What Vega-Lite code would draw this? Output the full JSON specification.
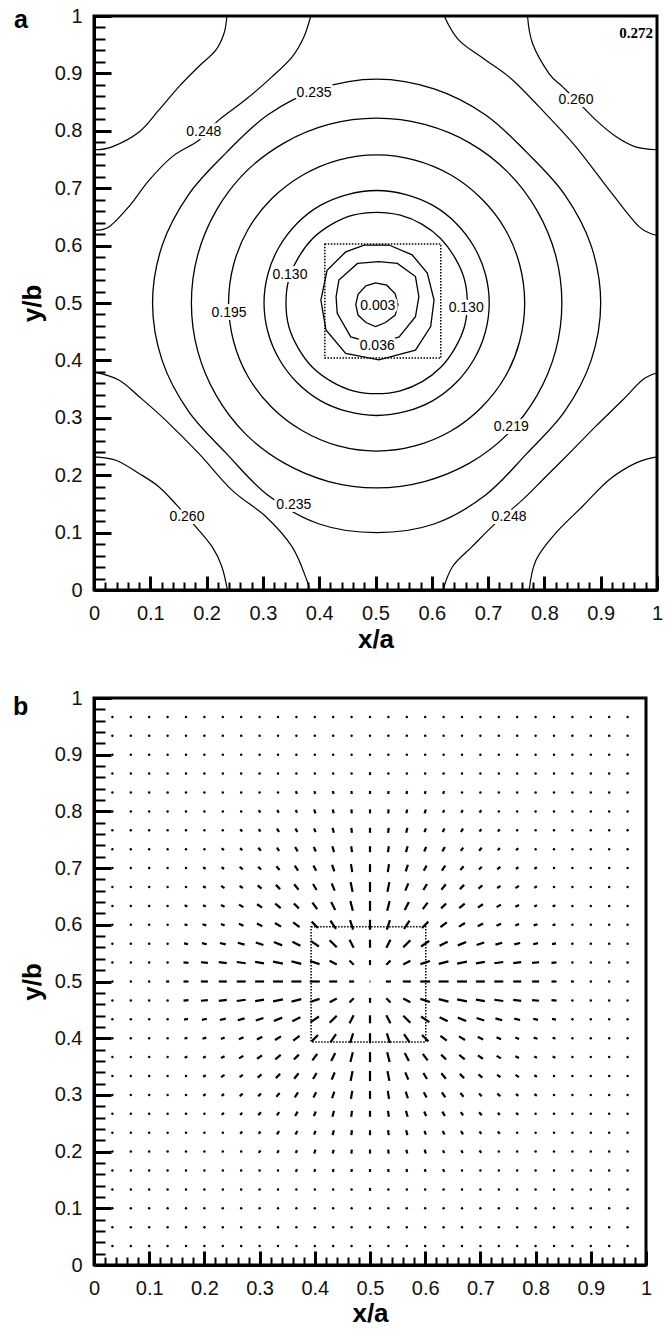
{
"$schema":"https://vega.github.io/schema/vega-lite/v6.json",
"background":"white",
"padding":{"left":11,"top":4,"right":0,"bottom":0},
"config":{
"view":{"stroke":"black","strokeWidth":3},
"concat":{"spacing":32},
"axis":{"domainColor":"black","domainWidth":3,"tickColor":"black","labelColor":"#111111","labelFont":"Liberation Sans","labelFontSize":20,"titleFont":"Liberation Sans","titleFontSize":26,"titleFontWeight":"bold","titleColor":"black","grid":false,"labelFlush":false,"labelOverlap":false,"zindex":1,"tickCount":100},
"title":{"anchor":"start","frame":"group","offset":0,"baseline":"alphabetic","font":"Liberation Sans","fontSize":25,"fontWeight":"bold","color":"black"}
},
"datasets":{
"rings":[
{"c":4,"o":0,"x":0.663,"y":0.5},{"c":4,"o":1,"x":0.658,"y":0.541},{"c":4,"o":2,"x":0.641,"y":0.579},{"c":4,"o":3,"x":0.616,"y":0.612},{"c":4,"o":4,"x":0.583,"y":0.637},{"c":4,"o":5,"x":0.544,"y":0.653},{"c":4,"o":6,"x":0.502,"y":0.658},{"c":4,"o":7,"x":0.46,"y":0.653},{"c":4,"o":8,"x":0.422,"y":0.637},{"c":4,"o":9,"x":0.388,"y":0.612},{"c":4,"o":10,"x":0.363,"y":0.579},{"c":4,"o":11,"x":0.346,"y":0.541},{"c":4,"o":12,"x":0.341,"y":0.5},{"c":4,"o":13,"x":0.346,"y":0.459},{"c":4,"o":14,"x":0.363,"y":0.421},{"c":4,"o":15,"x":0.388,"y":0.388},{"c":4,"o":16,"x":0.422,"y":0.363},{"c":4,"o":17,"x":0.46,"y":0.347},{"c":4,"o":18,"x":0.502,"y":0.342},{"c":4,"o":19,"x":0.544,"y":0.347},{"c":4,"o":20,"x":0.583,"y":0.363},{"c":4,"o":21,"x":0.616,"y":0.388},{"c":4,"o":22,"x":0.641,"y":0.421},{"c":4,"o":23,"x":0.658,"y":0.459},
{"c":5,"o":0,"x":0.702,"y":0.5},{"c":5,"o":1,"x":0.695,"y":0.551},{"c":5,"o":2,"x":0.675,"y":0.598},{"c":5,"o":3,"x":0.643,"y":0.639},{"c":5,"o":4,"x":0.602,"y":0.67},{"c":5,"o":5,"x":0.554,"y":0.689},{"c":5,"o":6,"x":0.502,"y":0.696},{"c":5,"o":7,"x":0.45,"y":0.689},{"c":5,"o":8,"x":0.402,"y":0.67},{"c":5,"o":9,"x":0.361,"y":0.639},{"c":5,"o":10,"x":0.329,"y":0.598},{"c":5,"o":11,"x":0.309,"y":0.551},{"c":5,"o":12,"x":0.302,"y":0.5},{"c":5,"o":13,"x":0.309,"y":0.449},{"c":5,"o":14,"x":0.329,"y":0.402},{"c":5,"o":15,"x":0.361,"y":0.361},{"c":5,"o":16,"x":0.402,"y":0.33},{"c":5,"o":17,"x":0.45,"y":0.311},{"c":5,"o":18,"x":0.502,"y":0.304},{"c":5,"o":19,"x":0.554,"y":0.311},{"c":5,"o":20,"x":0.602,"y":0.33},{"c":5,"o":21,"x":0.643,"y":0.361},{"c":5,"o":22,"x":0.675,"y":0.402},{"c":5,"o":23,"x":0.695,"y":0.449},
{"c":6,"o":0,"x":0.765,"y":0.5},{"c":6,"o":1,"x":0.756,"y":0.567},{"c":6,"o":2,"x":0.73,"y":0.629},{"c":6,"o":3,"x":0.688,"y":0.682},{"c":6,"o":4,"x":0.634,"y":0.723},{"c":6,"o":5,"x":0.57,"y":0.749},{"c":6,"o":6,"x":0.502,"y":0.758},{"c":6,"o":7,"x":0.434,"y":0.749},{"c":6,"o":8,"x":0.371,"y":0.723},{"c":6,"o":9,"x":0.316,"y":0.682},{"c":6,"o":10,"x":0.274,"y":0.629},{"c":6,"o":11,"x":0.248,"y":0.567},{"c":6,"o":12,"x":0.239,"y":0.5},{"c":6,"o":13,"x":0.248,"y":0.433},{"c":6,"o":14,"x":0.274,"y":0.371},{"c":6,"o":15,"x":0.316,"y":0.318},{"c":6,"o":16,"x":0.371,"y":0.277},{"c":6,"o":17,"x":0.434,"y":0.251},{"c":6,"o":18,"x":0.502,"y":0.242},{"c":6,"o":19,"x":0.57,"y":0.251},{"c":6,"o":20,"x":0.634,"y":0.277},{"c":6,"o":21,"x":0.688,"y":0.318},{"c":6,"o":22,"x":0.73,"y":0.371},{"c":6,"o":23,"x":0.756,"y":0.433},
{"c":7,"o":0,"x":0.831,"y":0.5},{"c":7,"o":1,"x":0.82,"y":0.583},{"c":7,"o":2,"x":0.787,"y":0.661},{"c":7,"o":3,"x":0.735,"y":0.728},{"c":7,"o":4,"x":0.667,"y":0.779},{"c":7,"o":5,"x":0.587,"y":0.811},{"c":7,"o":6,"x":0.502,"y":0.822},{"c":7,"o":7,"x":0.417,"y":0.811},{"c":7,"o":8,"x":0.338,"y":0.779},{"c":7,"o":9,"x":0.269,"y":0.728},{"c":7,"o":10,"x":0.217,"y":0.661},{"c":7,"o":11,"x":0.184,"y":0.583},{"c":7,"o":12,"x":0.173,"y":0.5},{"c":7,"o":13,"x":0.184,"y":0.417},{"c":7,"o":14,"x":0.217,"y":0.339},{"c":7,"o":15,"x":0.269,"y":0.272},{"c":7,"o":16,"x":0.338,"y":0.221},{"c":7,"o":17,"x":0.417,"y":0.189},{"c":7,"o":18,"x":0.502,"y":0.178},{"c":7,"o":19,"x":0.587,"y":0.189},{"c":7,"o":20,"x":0.667,"y":0.221},{"c":7,"o":21,"x":0.735,"y":0.272},{"c":7,"o":22,"x":0.787,"y":0.339},{"c":7,"o":23,"x":0.82,"y":0.417},
{"c":8,"o":0,"x":0.9,"y":0.5},{"c":8,"o":1,"x":0.883,"y":0.6},{"c":8,"o":2,"x":0.836,"y":0.689},{"c":8,"o":3,"x":0.769,"y":0.762},{"c":8,"o":4,"x":0.695,"y":0.828},{"c":8,"o":5,"x":0.604,"y":0.873},{"c":8,"o":6,"x":0.502,"y":0.89},{"c":8,"o":7,"x":0.4,"y":0.873},{"c":8,"o":8,"x":0.309,"y":0.828},{"c":8,"o":9,"x":0.235,"y":0.762},{"c":8,"o":10,"x":0.168,"y":0.689},{"c":8,"o":11,"x":0.121,"y":0.6},{"c":8,"o":12,"x":0.104,"y":0.5},{"c":8,"o":13,"x":0.121,"y":0.4},{"c":8,"o":14,"x":0.168,"y":0.311},{"c":8,"o":15,"x":0.235,"y":0.238},{"c":8,"o":16,"x":0.309,"y":0.165},{"c":8,"o":17,"x":0.4,"y":0.115},{"c":8,"o":18,"x":0.502,"y":0.1},{"c":8,"o":19,"x":0.604,"y":0.115},{"c":8,"o":20,"x":0.695,"y":0.165},{"c":8,"o":21,"x":0.769,"y":0.238},{"c":8,"o":22,"x":0.836,"y":0.311},{"c":8,"o":23,"x":0.883,"y":0.4}
],
"inner":[
{"c":1,"o":0,"x":0.465,"y":0.497},{"c":1,"o":1,"x":0.469,"y":0.515},{"c":1,"o":2,"x":0.483,"y":0.53},{"c":1,"o":3,"x":0.5,"y":0.535},{"c":1,"o":4,"x":0.52,"y":0.531},{"c":1,"o":5,"x":0.535,"y":0.516},{"c":1,"o":6,"x":0.54,"y":0.497},{"c":1,"o":7,"x":0.535,"y":0.479},{"c":1,"o":8,"x":0.518,"y":0.466},{"c":1,"o":9,"x":0.5,"y":0.459},{"c":1,"o":10,"x":0.483,"y":0.466},{"c":1,"o":11,"x":0.469,"y":0.479},
{"c":2,"o":0,"x":0.468,"y":0.569},{"c":2,"o":1,"x":0.506,"y":0.572},{"c":2,"o":2,"x":0.539,"y":0.569},{"c":2,"o":3,"x":0.571,"y":0.546},{"c":2,"o":4,"x":0.577,"y":0.511},{"c":2,"o":5,"x":0.571,"y":0.476},{"c":2,"o":6,"x":0.542,"y":0.441},{"c":2,"o":7,"x":0.503,"y":0.428},{"c":2,"o":8,"x":0.456,"y":0.441},{"c":2,"o":9,"x":0.432,"y":0.482},{"c":2,"o":10,"x":0.43,"y":0.511},{"c":2,"o":11,"x":0.435,"y":0.54},
{"c":3,"o":0,"x":0.48,"y":0.601},{"c":3,"o":1,"x":0.524,"y":0.601},{"c":3,"o":2,"x":0.565,"y":0.584},{"c":3,"o":3,"x":0.592,"y":0.552},{"c":3,"o":4,"x":0.604,"y":0.505},{"c":3,"o":5,"x":0.598,"y":0.459},{"c":3,"o":6,"x":0.571,"y":0.418},{"c":3,"o":7,"x":0.506,"y":0.401},{"c":3,"o":8,"x":0.447,"y":0.412},{"c":3,"o":9,"x":0.412,"y":0.453},{"c":3,"o":10,"x":0.403,"y":0.505},{"c":3,"o":11,"x":0.414,"y":0.557},{"c":3,"o":12,"x":0.447,"y":0.589}
],
"arcs":[
{"c":11,"o":0,"x":0,"y":0.767},{"c":11,"o":1,"x":0.032,"y":0.772},{"c":11,"o":2,"x":0.08,"y":0.798},{"c":11,"o":3,"x":0.115,"y":0.836},{"c":11,"o":4,"x":0.151,"y":0.877},{"c":11,"o":5,"x":0.186,"y":0.912},{"c":11,"o":6,"x":0.216,"y":0.94},{"c":11,"o":7,"x":0.231,"y":0.97},{"c":11,"o":8,"x":0.236,"y":1},
{"c":12,"o":0,"x":0,"y":0.627},{"c":12,"o":1,"x":0.027,"y":0.633},{"c":12,"o":2,"x":0.062,"y":0.668},{"c":12,"o":3,"x":0.098,"y":0.714},{"c":12,"o":4,"x":0.139,"y":0.755},{"c":12,"o":5,"x":0.187,"y":0.784},{"c":12,"o":6,"x":0.222,"y":0.819},{"c":12,"o":7,"x":0.269,"y":0.854},{"c":12,"o":8,"x":0.316,"y":0.894},{"c":12,"o":9,"x":0.352,"y":0.929},{"c":12,"o":10,"x":0.373,"y":0.964},{"c":12,"o":11,"x":0.385,"y":1},
{"c":13,"o":0,"x":0.77,"y":1},{"c":13,"o":1,"x":0.779,"y":0.952},{"c":13,"o":2,"x":0.808,"y":0.9},{"c":13,"o":3,"x":0.832,"y":0.877},{"c":13,"o":4,"x":0.856,"y":0.854},{"c":13,"o":5,"x":0.891,"y":0.819},{"c":13,"o":6,"x":0.927,"y":0.79},{"c":13,"o":7,"x":0.962,"y":0.772},{"c":13,"o":8,"x":1,"y":0.767},
{"c":14,"o":0,"x":0.622,"y":1},{"c":14,"o":1,"x":0.648,"y":0.958},{"c":14,"o":2,"x":0.696,"y":0.923},{"c":14,"o":3,"x":0.743,"y":0.889},{"c":14,"o":4,"x":0.802,"y":0.83},{"c":14,"o":5,"x":0.856,"y":0.772},{"c":14,"o":6,"x":0.915,"y":0.697},{"c":14,"o":7,"x":0.968,"y":0.633},{"c":14,"o":8,"x":1,"y":0.618},
{"c":15,"o":0,"x":0,"y":0.232},{"c":15,"o":1,"x":0.039,"y":0.226},{"c":15,"o":2,"x":0.08,"y":0.203},{"c":15,"o":3,"x":0.115,"y":0.18},{"c":15,"o":4,"x":0.147,"y":0.148},{"c":15,"o":5,"x":0.181,"y":0.11},{"c":15,"o":6,"x":0.21,"y":0.075},{"c":15,"o":7,"x":0.227,"y":0.041},{"c":15,"o":8,"x":0.237,"y":0},
{"c":16,"o":0,"x":0,"y":0.38},{"c":16,"o":1,"x":0.044,"y":0.366},{"c":16,"o":2,"x":0.08,"y":0.337},{"c":16,"o":3,"x":0.127,"y":0.296},{"c":16,"o":4,"x":0.186,"y":0.238},{"c":16,"o":5,"x":0.245,"y":0.174},{"c":16,"o":6,"x":0.305,"y":0.128},{"c":16,"o":7,"x":0.352,"y":0.075},{"c":16,"o":8,"x":0.378,"y":0.017},{"c":16,"o":9,"x":0.382,"y":0},
{"c":17,"o":0,"x":0.773,"y":0},{"c":17,"o":1,"x":0.785,"y":0.052},{"c":17,"o":2,"x":0.82,"y":0.099},{"c":17,"o":3,"x":0.867,"y":0.145},{"c":17,"o":4,"x":0.915,"y":0.192},{"c":17,"o":5,"x":0.962,"y":0.221},{"c":17,"o":6,"x":1,"y":0.232},
{"c":18,"o":0,"x":0.62,"y":0},{"c":18,"o":1,"x":0.637,"y":0.041},{"c":18,"o":2,"x":0.672,"y":0.076},{"c":18,"o":3,"x":0.713,"y":0.116},{"c":18,"o":4,"x":0.761,"y":0.157},{"c":18,"o":5,"x":0.797,"y":0.192},{"c":18,"o":6,"x":0.844,"y":0.238},{"c":18,"o":7,"x":0.891,"y":0.285},{"c":18,"o":8,"x":0.939,"y":0.331},{"c":18,"o":9,"x":0.974,"y":0.366},{"c":18,"o":10,"x":1,"y":0.378}
],
"labels":[
{"t":"0.260","x":0.856,"y":0.854},{"t":"0.235","x":0.391,"y":0.866},{"t":"0.248","x":0.195,"y":0.798},{"t":"0.130","x":0.348,"y":0.549},{"t":"0.195","x":0.24,"y":0.483},{"t":"0.003","x":0.504,"y":0.495},{"t":"0.130","x":0.661,"y":0.491},{"t":"0.036","x":0.503,"y":0.425},{"t":"0.219","x":0.741,"y":0.284},{"t":"0.235","x":0.355,"y":0.148},{"t":"0.260","x":0.165,"y":0.127},{"t":"0.248","x":0.737,"y":0.127}
],
"near":[
{"i":15,"j":26,"a":90,"l":3},
{"i":11,"j":25,"a":68,"l":3},{"i":12,"j":25,"a":73,"l":3},{"i":13,"j":25,"a":79,"l":3},{"i":14,"j":25,"a":84,"l":3},{"i":15,"j":25,"a":90,"l":3},{"i":16,"j":25,"a":-84,"l":3},{"i":17,"j":25,"a":-79,"l":3},{"i":18,"j":25,"a":-73,"l":3},{"i":19,"j":25,"a":-68,"l":3},
{"i":9,"j":24,"a":56,"l":3},{"i":10,"j":24,"a":61,"l":3},{"i":11,"j":24,"a":66,"l":3},{"i":12,"j":24,"a":72,"l":4},{"i":13,"j":24,"a":77,"l":4},{"i":14,"j":24,"a":84,"l":4},{"i":15,"j":24,"a":90,"l":4},{"i":16,"j":24,"a":-84,"l":4},{"i":17,"j":24,"a":-77,"l":4},{"i":18,"j":24,"a":-72,"l":4},{"i":19,"j":24,"a":-66,"l":3},{"i":20,"j":24,"a":-61,"l":3},{"i":21,"j":24,"a":-56,"l":3},
{"i":8,"j":23,"a":49,"l":3},{"i":9,"j":23,"a":53,"l":3},{"i":10,"j":23,"a":58,"l":4},{"i":11,"j":23,"a":63,"l":4},{"i":12,"j":23,"a":69,"l":4},{"i":13,"j":23,"a":76,"l":5},{"i":14,"j":23,"a":83,"l":5},{"i":15,"j":23,"a":90,"l":5},{"i":16,"j":23,"a":-83,"l":5},{"i":17,"j":23,"a":-76,"l":5},{"i":18,"j":23,"a":-69,"l":4},{"i":19,"j":23,"a":-63,"l":4},{"i":20,"j":23,"a":-58,"l":4},{"i":21,"j":23,"a":-53,"l":3},{"i":22,"j":23,"a":-49,"l":3},
{"i":7,"j":22,"a":41,"l":3},{"i":8,"j":22,"a":45,"l":3},{"i":9,"j":22,"a":49,"l":4},{"i":10,"j":22,"a":54,"l":4},{"i":11,"j":22,"a":60,"l":5},{"i":12,"j":22,"a":67,"l":5},{"i":13,"j":22,"a":74,"l":6},{"i":14,"j":22,"a":82,"l":6},{"i":15,"j":22,"a":90,"l":6},{"i":16,"j":22,"a":-82,"l":6},{"i":17,"j":22,"a":-74,"l":6},{"i":18,"j":22,"a":-67,"l":5},{"i":19,"j":22,"a":-60,"l":5},{"i":20,"j":22,"a":-54,"l":4},{"i":21,"j":22,"a":-49,"l":4},{"i":22,"j":22,"a":-45,"l":3},{"i":23,"j":22,"a":-41,"l":3},
{"i":6,"j":21,"a":34,"l":3},{"i":7,"j":21,"a":37,"l":3},{"i":8,"j":21,"a":41,"l":4},{"i":9,"j":21,"a":45,"l":4},{"i":10,"j":21,"a":50,"l":5},{"i":11,"j":21,"a":56,"l":6},{"i":12,"j":21,"a":63,"l":6},{"i":13,"j":21,"a":72,"l":7},{"i":14,"j":21,"a":81,"l":8},{"i":15,"j":21,"a":90,"l":8},{"i":16,"j":21,"a":-81,"l":8},{"i":17,"j":21,"a":-72,"l":7},{"i":18,"j":21,"a":-63,"l":6},{"i":19,"j":21,"a":-56,"l":6},{"i":20,"j":21,"a":-50,"l":5},{"i":21,"j":21,"a":-45,"l":4},{"i":22,"j":21,"a":-41,"l":4},{"i":23,"j":21,"a":-37,"l":3},{"i":24,"j":21,"a":-34,"l":3},
{"i":6,"j":20,"a":29,"l":3},{"i":7,"j":20,"a":32,"l":4},{"i":8,"j":20,"a":36,"l":4},{"i":9,"j":20,"a":40,"l":5},{"i":10,"j":20,"a":45,"l":6},{"i":11,"j":20,"a":51,"l":7},{"i":12,"j":20,"a":59,"l":7},{"i":13,"j":20,"a":68,"l":8},{"i":14,"j":20,"a":79,"l":10},{"i":15,"j":20,"a":90,"l":10},{"i":16,"j":20,"a":-79,"l":10},{"i":17,"j":20,"a":-68,"l":8},{"i":18,"j":20,"a":-59,"l":7},{"i":19,"j":20,"a":-51,"l":7},{"i":20,"j":20,"a":-45,"l":6},{"i":21,"j":20,"a":-40,"l":5},{"i":22,"j":20,"a":-36,"l":4},{"i":23,"j":20,"a":-32,"l":4},{"i":24,"j":20,"a":-29,"l":3},
{"i":5,"j":19,"a":22,"l":3},{"i":6,"j":19,"a":24,"l":3},{"i":7,"j":19,"a":27,"l":4},{"i":8,"j":19,"a":30,"l":5},{"i":9,"j":19,"a":34,"l":6},{"i":10,"j":19,"a":39,"l":7},{"i":11,"j":19,"a":45,"l":7},{"i":12,"j":19,"a":53,"l":8},{"i":13,"j":19,"a":63,"l":9},{"i":14,"j":19,"a":76,"l":10},{"i":15,"j":19,"a":90,"l":10},{"i":16,"j":19,"a":-76,"l":10},{"i":17,"j":19,"a":-63,"l":9},{"i":18,"j":19,"a":-53,"l":8},{"i":19,"j":19,"a":-45,"l":7},{"i":20,"j":19,"a":-39,"l":7},{"i":21,"j":19,"a":-34,"l":6},{"i":22,"j":19,"a":-30,"l":5},{"i":23,"j":19,"a":-27,"l":4},{"i":24,"j":19,"a":-24,"l":3},{"i":25,"j":19,"a":-22,"l":3},
{"i":5,"j":18,"a":17,"l":3},{"i":6,"j":18,"a":18,"l":4},{"i":7,"j":18,"a":21,"l":4},{"i":8,"j":18,"a":23,"l":5},{"i":9,"j":18,"a":27,"l":6},{"i":10,"j":18,"a":31,"l":7},{"i":11,"j":18,"a":37,"l":8},{"i":12,"j":18,"a":45,"l":9},{"i":13,"j":18,"a":56,"l":10},{"i":14,"j":18,"a":72,"l":10},{"i":15,"j":18,"a":90,"l":10},{"i":16,"j":18,"a":-72,"l":10},{"i":17,"j":18,"a":-56,"l":10},{"i":18,"j":18,"a":-45,"l":9},{"i":19,"j":18,"a":-37,"l":8},{"i":20,"j":18,"a":-31,"l":7},{"i":21,"j":18,"a":-27,"l":6},{"i":22,"j":18,"a":-23,"l":5},{"i":23,"j":18,"a":-21,"l":4},{"i":24,"j":18,"a":-18,"l":4},{"i":25,"j":18,"a":-17,"l":3},
{"i":5,"j":17,"a":11,"l":4},{"i":6,"j":17,"a":13,"l":5},{"i":7,"j":17,"a":14,"l":6},{"i":8,"j":17,"a":16,"l":7},{"i":9,"j":17,"a":18,"l":8},{"i":10,"j":17,"a":22,"l":9},{"i":11,"j":17,"a":27,"l":9},{"i":12,"j":17,"a":34,"l":10},{"i":13,"j":17,"a":45,"l":10},{"i":14,"j":17,"a":63,"l":9},{"i":15,"j":17,"a":90,"l":8},{"i":16,"j":17,"a":-63,"l":9},{"i":17,"j":17,"a":-45,"l":10},{"i":18,"j":17,"a":-34,"l":10},{"i":19,"j":17,"a":-27,"l":9},{"i":20,"j":17,"a":-22,"l":9},{"i":21,"j":17,"a":-18,"l":8},{"i":22,"j":17,"a":-16,"l":7},{"i":23,"j":17,"a":-14,"l":6},{"i":24,"j":17,"a":-13,"l":5},{"i":25,"j":17,"a":-11,"l":4},
{"i":5,"j":16,"a":6,"l":5},{"i":6,"j":16,"a":6,"l":7},{"i":7,"j":16,"a":7,"l":8},{"i":8,"j":16,"a":8,"l":9},{"i":9,"j":16,"a":9,"l":9},{"i":10,"j":16,"a":11,"l":10},{"i":11,"j":16,"a":14,"l":10},{"i":12,"j":16,"a":18,"l":10},{"i":13,"j":16,"a":27,"l":8},{"i":14,"j":16,"a":45,"l":6},{"i":15,"j":16,"a":90,"l":5},{"i":16,"j":16,"a":-45,"l":6},{"i":17,"j":16,"a":-27,"l":8},{"i":18,"j":16,"a":-18,"l":10},{"i":19,"j":16,"a":-14,"l":10},{"i":20,"j":16,"a":-11,"l":10},{"i":21,"j":16,"a":-9,"l":9},{"i":22,"j":16,"a":-8,"l":9},{"i":23,"j":16,"a":-7,"l":8},{"i":24,"j":16,"a":-6,"l":7},{"i":25,"j":16,"a":-6,"l":5},
{"i":4,"j":15,"a":0,"l":3},{"i":5,"j":15,"a":0,"l":5},{"i":6,"j":15,"a":0,"l":7},{"i":7,"j":15,"a":0,"l":8},{"i":8,"j":15,"a":0,"l":9},{"i":9,"j":15,"a":0,"l":9},{"i":10,"j":15,"a":0,"l":10},{"i":11,"j":15,"a":0,"l":10},{"i":12,"j":15,"a":0,"l":10},{"i":13,"j":15,"a":0,"l":8},{"i":14,"j":15,"a":0,"l":5},{"i":15,"j":15,"a":0,"l":1},{"i":16,"j":15,"a":0,"l":5},{"i":17,"j":15,"a":0,"l":8},{"i":18,"j":15,"a":0,"l":10},{"i":19,"j":15,"a":0,"l":10},{"i":20,"j":15,"a":0,"l":10},{"i":21,"j":15,"a":0,"l":9},{"i":22,"j":15,"a":0,"l":9},{"i":23,"j":15,"a":0,"l":8},{"i":24,"j":15,"a":0,"l":7},{"i":25,"j":15,"a":0,"l":5},{"i":26,"j":15,"a":0,"l":3},
{"i":5,"j":14,"a":-6,"l":5},{"i":6,"j":14,"a":-6,"l":7},{"i":7,"j":14,"a":-7,"l":8},{"i":8,"j":14,"a":-8,"l":9},{"i":9,"j":14,"a":-9,"l":9},{"i":10,"j":14,"a":-11,"l":10},{"i":11,"j":14,"a":-14,"l":10},{"i":12,"j":14,"a":-18,"l":10},{"i":13,"j":14,"a":-27,"l":8},{"i":14,"j":14,"a":-45,"l":6},{"i":15,"j":14,"a":90,"l":5},{"i":16,"j":14,"a":45,"l":6},{"i":17,"j":14,"a":27,"l":8},{"i":18,"j":14,"a":18,"l":10},{"i":19,"j":14,"a":14,"l":10},{"i":20,"j":14,"a":11,"l":10},{"i":21,"j":14,"a":9,"l":9},{"i":22,"j":14,"a":8,"l":9},{"i":23,"j":14,"a":7,"l":8},{"i":24,"j":14,"a":6,"l":7},{"i":25,"j":14,"a":6,"l":5},
{"i":5,"j":13,"a":-11,"l":4},{"i":6,"j":13,"a":-13,"l":5},{"i":7,"j":13,"a":-14,"l":6},{"i":8,"j":13,"a":-16,"l":7},{"i":9,"j":13,"a":-18,"l":8},{"i":10,"j":13,"a":-22,"l":9},{"i":11,"j":13,"a":-27,"l":9},{"i":12,"j":13,"a":-34,"l":10},{"i":13,"j":13,"a":-45,"l":10},{"i":14,"j":13,"a":-63,"l":9},{"i":15,"j":13,"a":90,"l":8},{"i":16,"j":13,"a":63,"l":9},{"i":17,"j":13,"a":45,"l":10},{"i":18,"j":13,"a":34,"l":10},{"i":19,"j":13,"a":27,"l":9},{"i":20,"j":13,"a":22,"l":9},{"i":21,"j":13,"a":18,"l":8},{"i":22,"j":13,"a":16,"l":7},{"i":23,"j":13,"a":14,"l":6},{"i":24,"j":13,"a":13,"l":5},{"i":25,"j":13,"a":11,"l":4},
{"i":5,"j":12,"a":-17,"l":3},{"i":6,"j":12,"a":-18,"l":4},{"i":7,"j":12,"a":-21,"l":4},{"i":8,"j":12,"a":-23,"l":5},{"i":9,"j":12,"a":-27,"l":6},{"i":10,"j":12,"a":-31,"l":7},{"i":11,"j":12,"a":-37,"l":8},{"i":12,"j":12,"a":-45,"l":9},{"i":13,"j":12,"a":-56,"l":10},{"i":14,"j":12,"a":-72,"l":10},{"i":15,"j":12,"a":90,"l":10},{"i":16,"j":12,"a":72,"l":10},{"i":17,"j":12,"a":56,"l":10},{"i":18,"j":12,"a":45,"l":9},{"i":19,"j":12,"a":37,"l":8},{"i":20,"j":12,"a":31,"l":7},{"i":21,"j":12,"a":27,"l":6},{"i":22,"j":12,"a":23,"l":5},{"i":23,"j":12,"a":21,"l":4},{"i":24,"j":12,"a":18,"l":4},{"i":25,"j":12,"a":17,"l":3},
{"i":5,"j":11,"a":-22,"l":3},{"i":6,"j":11,"a":-24,"l":3},{"i":7,"j":11,"a":-27,"l":4},{"i":8,"j":11,"a":-30,"l":5},{"i":9,"j":11,"a":-34,"l":6},{"i":10,"j":11,"a":-39,"l":7},{"i":11,"j":11,"a":-45,"l":7},{"i":12,"j":11,"a":-53,"l":8},{"i":13,"j":11,"a":-63,"l":9},{"i":14,"j":11,"a":-76,"l":10},{"i":15,"j":11,"a":90,"l":10},{"i":16,"j":11,"a":76,"l":10},{"i":17,"j":11,"a":63,"l":9},{"i":18,"j":11,"a":53,"l":8},{"i":19,"j":11,"a":45,"l":7},{"i":20,"j":11,"a":39,"l":7},{"i":21,"j":11,"a":34,"l":6},{"i":22,"j":11,"a":30,"l":5},{"i":23,"j":11,"a":27,"l":4},{"i":24,"j":11,"a":24,"l":3},{"i":25,"j":11,"a":22,"l":3},
{"i":6,"j":10,"a":-29,"l":3},{"i":7,"j":10,"a":-32,"l":4},{"i":8,"j":10,"a":-36,"l":4},{"i":9,"j":10,"a":-40,"l":5},{"i":10,"j":10,"a":-45,"l":6},{"i":11,"j":10,"a":-51,"l":7},{"i":12,"j":10,"a":-59,"l":7},{"i":13,"j":10,"a":-68,"l":8},{"i":14,"j":10,"a":-79,"l":10},{"i":15,"j":10,"a":90,"l":10},{"i":16,"j":10,"a":79,"l":10},{"i":17,"j":10,"a":68,"l":8},{"i":18,"j":10,"a":59,"l":7},{"i":19,"j":10,"a":51,"l":7},{"i":20,"j":10,"a":45,"l":6},{"i":21,"j":10,"a":40,"l":5},{"i":22,"j":10,"a":36,"l":4},{"i":23,"j":10,"a":32,"l":4},{"i":24,"j":10,"a":29,"l":3},
{"i":6,"j":9,"a":-34,"l":3},{"i":7,"j":9,"a":-37,"l":3},{"i":8,"j":9,"a":-41,"l":4},{"i":9,"j":9,"a":-45,"l":4},{"i":10,"j":9,"a":-50,"l":5},{"i":11,"j":9,"a":-56,"l":6},{"i":12,"j":9,"a":-63,"l":6},{"i":13,"j":9,"a":-72,"l":7},{"i":14,"j":9,"a":-81,"l":8},{"i":15,"j":9,"a":90,"l":8},{"i":16,"j":9,"a":81,"l":8},{"i":17,"j":9,"a":72,"l":7},{"i":18,"j":9,"a":63,"l":6},{"i":19,"j":9,"a":56,"l":6},{"i":20,"j":9,"a":50,"l":5},{"i":21,"j":9,"a":45,"l":4},{"i":22,"j":9,"a":41,"l":4},{"i":23,"j":9,"a":37,"l":3},{"i":24,"j":9,"a":34,"l":3},
{"i":7,"j":8,"a":-41,"l":3},{"i":8,"j":8,"a":-45,"l":3},{"i":9,"j":8,"a":-49,"l":4},{"i":10,"j":8,"a":-54,"l":4},{"i":11,"j":8,"a":-60,"l":5},{"i":12,"j":8,"a":-67,"l":5},{"i":13,"j":8,"a":-74,"l":6},{"i":14,"j":8,"a":-82,"l":6},{"i":15,"j":8,"a":90,"l":6},{"i":16,"j":8,"a":82,"l":6},{"i":17,"j":8,"a":74,"l":6},{"i":18,"j":8,"a":67,"l":5},{"i":19,"j":8,"a":60,"l":5},{"i":20,"j":8,"a":54,"l":4},{"i":21,"j":8,"a":49,"l":4},{"i":22,"j":8,"a":45,"l":3},{"i":23,"j":8,"a":41,"l":3},
{"i":8,"j":7,"a":-49,"l":3},{"i":9,"j":7,"a":-53,"l":3},{"i":10,"j":7,"a":-58,"l":4},{"i":11,"j":7,"a":-63,"l":4},{"i":12,"j":7,"a":-69,"l":4},{"i":13,"j":7,"a":-76,"l":5},{"i":14,"j":7,"a":-83,"l":5},{"i":15,"j":7,"a":90,"l":5},{"i":16,"j":7,"a":83,"l":5},{"i":17,"j":7,"a":76,"l":5},{"i":18,"j":7,"a":69,"l":4},{"i":19,"j":7,"a":63,"l":4},{"i":20,"j":7,"a":58,"l":4},{"i":21,"j":7,"a":53,"l":3},{"i":22,"j":7,"a":49,"l":3},
{"i":9,"j":6,"a":-56,"l":3},{"i":10,"j":6,"a":-61,"l":3},{"i":11,"j":6,"a":-66,"l":3},{"i":12,"j":6,"a":-72,"l":4},{"i":13,"j":6,"a":-77,"l":4},{"i":14,"j":6,"a":-84,"l":4},{"i":15,"j":6,"a":90,"l":4},{"i":16,"j":6,"a":84,"l":4},{"i":17,"j":6,"a":77,"l":4},{"i":18,"j":6,"a":72,"l":4},{"i":19,"j":6,"a":66,"l":3},{"i":20,"j":6,"a":61,"l":3},{"i":21,"j":6,"a":56,"l":3},
{"i":11,"j":5,"a":-68,"l":3},{"i":12,"j":5,"a":-73,"l":3},{"i":13,"j":5,"a":-79,"l":3},{"i":14,"j":5,"a":-84,"l":3},{"i":15,"j":5,"a":90,"l":3},{"i":16,"j":5,"a":84,"l":3},{"i":17,"j":5,"a":79,"l":3},{"i":18,"j":5,"a":73,"l":3},{"i":19,"j":5,"a":68,"l":3},
{"i":15,"j":4,"a":90,"l":3}
],
"far":[
{"i":1,"j":29},{"i":2,"j":29},{"i":3,"j":29},{"i":4,"j":29},{"i":5,"j":29},{"i":6,"j":29},{"i":7,"j":29},{"i":8,"j":29},{"i":9,"j":29},{"i":10,"j":29},{"i":11,"j":29},{"i":12,"j":29},{"i":13,"j":29},{"i":14,"j":29},{"i":15,"j":29},{"i":16,"j":29},{"i":17,"j":29},{"i":18,"j":29},{"i":19,"j":29},{"i":20,"j":29},{"i":21,"j":29},{"i":22,"j":29},{"i":23,"j":29},{"i":24,"j":29},{"i":25,"j":29},{"i":26,"j":29},{"i":27,"j":29},{"i":28,"j":29},{"i":29,"j":29},
{"i":1,"j":28},{"i":2,"j":28},{"i":3,"j":28},{"i":4,"j":28},{"i":5,"j":28},{"i":6,"j":28},{"i":7,"j":28},{"i":8,"j":28},{"i":9,"j":28},{"i":10,"j":28},{"i":11,"j":28},{"i":12,"j":28},{"i":13,"j":28},{"i":14,"j":28},{"i":15,"j":28},{"i":16,"j":28},{"i":17,"j":28},{"i":18,"j":28},{"i":19,"j":28},{"i":20,"j":28},{"i":21,"j":28},{"i":22,"j":28},{"i":23,"j":28},{"i":24,"j":28},{"i":25,"j":28},{"i":26,"j":28},{"i":27,"j":28},{"i":28,"j":28},{"i":29,"j":28},
{"i":1,"j":27},{"i":2,"j":27},{"i":3,"j":27},{"i":4,"j":27},{"i":5,"j":27},{"i":6,"j":27},{"i":7,"j":27},{"i":8,"j":27},{"i":9,"j":27},{"i":10,"j":27},{"i":11,"j":27},{"i":12,"j":27},{"i":13,"j":27},{"i":14,"j":27},{"i":15,"j":27},{"i":16,"j":27},{"i":17,"j":27},{"i":18,"j":27},{"i":19,"j":27},{"i":20,"j":27},{"i":21,"j":27},{"i":22,"j":27},{"i":23,"j":27},{"i":24,"j":27},{"i":25,"j":27},{"i":26,"j":27},{"i":27,"j":27},{"i":28,"j":27},{"i":29,"j":27},
{"i":1,"j":26},{"i":2,"j":26},{"i":3,"j":26},{"i":4,"j":26},{"i":5,"j":26},{"i":6,"j":26},{"i":7,"j":26},{"i":8,"j":26},{"i":9,"j":26},{"i":10,"j":26},{"i":11,"j":26},{"i":12,"j":26},{"i":13,"j":26},{"i":14,"j":26},{"i":16,"j":26},{"i":17,"j":26},{"i":18,"j":26},{"i":19,"j":26},{"i":20,"j":26},{"i":21,"j":26},{"i":22,"j":26},{"i":23,"j":26},{"i":24,"j":26},{"i":25,"j":26},{"i":26,"j":26},{"i":27,"j":26},{"i":28,"j":26},{"i":29,"j":26},
{"i":1,"j":25},{"i":2,"j":25},{"i":3,"j":25},{"i":4,"j":25},{"i":5,"j":25},{"i":6,"j":25},{"i":7,"j":25},{"i":8,"j":25},{"i":9,"j":25},{"i":10,"j":25},{"i":20,"j":25},{"i":21,"j":25},{"i":22,"j":25},{"i":23,"j":25},{"i":24,"j":25},{"i":25,"j":25},{"i":26,"j":25},{"i":27,"j":25},{"i":28,"j":25},{"i":29,"j":25},
{"i":1,"j":24},{"i":2,"j":24},{"i":3,"j":24},{"i":4,"j":24},{"i":5,"j":24},{"i":6,"j":24},{"i":7,"j":24},{"i":8,"j":24},{"i":22,"j":24},{"i":23,"j":24},{"i":24,"j":24},{"i":25,"j":24},{"i":26,"j":24},{"i":27,"j":24},{"i":28,"j":24},{"i":29,"j":24},
{"i":1,"j":23},{"i":2,"j":23},{"i":3,"j":23},{"i":4,"j":23},{"i":5,"j":23},{"i":6,"j":23},{"i":7,"j":23},{"i":23,"j":23},{"i":24,"j":23},{"i":25,"j":23},{"i":26,"j":23},{"i":27,"j":23},{"i":28,"j":23},{"i":29,"j":23},
{"i":1,"j":22},{"i":2,"j":22},{"i":3,"j":22},{"i":4,"j":22},{"i":5,"j":22},{"i":6,"j":22},{"i":24,"j":22},{"i":25,"j":22},{"i":26,"j":22},{"i":27,"j":22},{"i":28,"j":22},{"i":29,"j":22},
{"i":1,"j":21},{"i":2,"j":21},{"i":3,"j":21},{"i":4,"j":21},{"i":5,"j":21},{"i":25,"j":21},{"i":26,"j":21},{"i":27,"j":21},{"i":28,"j":21},{"i":29,"j":21},
{"i":1,"j":20},{"i":2,"j":20},{"i":3,"j":20},{"i":4,"j":20},{"i":5,"j":20},{"i":25,"j":20},{"i":26,"j":20},{"i":27,"j":20},{"i":28,"j":20},{"i":29,"j":20},
{"i":1,"j":19},{"i":2,"j":19},{"i":3,"j":19},{"i":4,"j":19},{"i":26,"j":19},{"i":27,"j":19},{"i":28,"j":19},{"i":29,"j":19},
{"i":1,"j":18},{"i":2,"j":18},{"i":3,"j":18},{"i":4,"j":18},{"i":26,"j":18},{"i":27,"j":18},{"i":28,"j":18},{"i":29,"j":18},
{"i":1,"j":17},{"i":2,"j":17},{"i":3,"j":17},{"i":4,"j":17},{"i":26,"j":17},{"i":27,"j":17},{"i":28,"j":17},{"i":29,"j":17},
{"i":1,"j":16},{"i":2,"j":16},{"i":3,"j":16},{"i":4,"j":16},{"i":26,"j":16},{"i":27,"j":16},{"i":28,"j":16},{"i":29,"j":16},
{"i":1,"j":15},{"i":2,"j":15},{"i":3,"j":15},{"i":27,"j":15},{"i":28,"j":15},{"i":29,"j":15},
{"i":1,"j":14},{"i":2,"j":14},{"i":3,"j":14},{"i":4,"j":14},{"i":26,"j":14},{"i":27,"j":14},{"i":28,"j":14},{"i":29,"j":14},
{"i":1,"j":13},{"i":2,"j":13},{"i":3,"j":13},{"i":4,"j":13},{"i":26,"j":13},{"i":27,"j":13},{"i":28,"j":13},{"i":29,"j":13},
{"i":1,"j":12},{"i":2,"j":12},{"i":3,"j":12},{"i":4,"j":12},{"i":26,"j":12},{"i":27,"j":12},{"i":28,"j":12},{"i":29,"j":12},
{"i":1,"j":11},{"i":2,"j":11},{"i":3,"j":11},{"i":4,"j":11},{"i":26,"j":11},{"i":27,"j":11},{"i":28,"j":11},{"i":29,"j":11},
{"i":1,"j":10},{"i":2,"j":10},{"i":3,"j":10},{"i":4,"j":10},{"i":5,"j":10},{"i":25,"j":10},{"i":26,"j":10},{"i":27,"j":10},{"i":28,"j":10},{"i":29,"j":10},
{"i":1,"j":9},{"i":2,"j":9},{"i":3,"j":9},{"i":4,"j":9},{"i":5,"j":9},{"i":25,"j":9},{"i":26,"j":9},{"i":27,"j":9},{"i":28,"j":9},{"i":29,"j":9},
{"i":1,"j":8},{"i":2,"j":8},{"i":3,"j":8},{"i":4,"j":8},{"i":5,"j":8},{"i":6,"j":8},{"i":24,"j":8},{"i":25,"j":8},{"i":26,"j":8},{"i":27,"j":8},{"i":28,"j":8},{"i":29,"j":8},
{"i":1,"j":7},{"i":2,"j":7},{"i":3,"j":7},{"i":4,"j":7},{"i":5,"j":7},{"i":6,"j":7},{"i":7,"j":7},{"i":23,"j":7},{"i":24,"j":7},{"i":25,"j":7},{"i":26,"j":7},{"i":27,"j":7},{"i":28,"j":7},{"i":29,"j":7},
{"i":1,"j":6},{"i":2,"j":6},{"i":3,"j":6},{"i":4,"j":6},{"i":5,"j":6},{"i":6,"j":6},{"i":7,"j":6},{"i":8,"j":6},{"i":22,"j":6},{"i":23,"j":6},{"i":24,"j":6},{"i":25,"j":6},{"i":26,"j":6},{"i":27,"j":6},{"i":28,"j":6},{"i":29,"j":6},
{"i":1,"j":5},{"i":2,"j":5},{"i":3,"j":5},{"i":4,"j":5},{"i":5,"j":5},{"i":6,"j":5},{"i":7,"j":5},{"i":8,"j":5},{"i":9,"j":5},{"i":10,"j":5},{"i":20,"j":5},{"i":21,"j":5},{"i":22,"j":5},{"i":23,"j":5},{"i":24,"j":5},{"i":25,"j":5},{"i":26,"j":5},{"i":27,"j":5},{"i":28,"j":5},{"i":29,"j":5},
{"i":1,"j":4},{"i":2,"j":4},{"i":3,"j":4},{"i":4,"j":4},{"i":5,"j":4},{"i":6,"j":4},{"i":7,"j":4},{"i":8,"j":4},{"i":9,"j":4},{"i":10,"j":4},{"i":11,"j":4},{"i":12,"j":4},{"i":13,"j":4},{"i":14,"j":4},{"i":16,"j":4},{"i":17,"j":4},{"i":18,"j":4},{"i":19,"j":4},{"i":20,"j":4},{"i":21,"j":4},{"i":22,"j":4},{"i":23,"j":4},{"i":24,"j":4},{"i":25,"j":4},{"i":26,"j":4},{"i":27,"j":4},{"i":28,"j":4},{"i":29,"j":4},
{"i":1,"j":3},{"i":2,"j":3},{"i":3,"j":3},{"i":4,"j":3},{"i":5,"j":3},{"i":6,"j":3},{"i":7,"j":3},{"i":8,"j":3},{"i":9,"j":3},{"i":10,"j":3},{"i":11,"j":3},{"i":12,"j":3},{"i":13,"j":3},{"i":14,"j":3},{"i":15,"j":3},{"i":16,"j":3},{"i":17,"j":3},{"i":18,"j":3},{"i":19,"j":3},{"i":20,"j":3},{"i":21,"j":3},{"i":22,"j":3},{"i":23,"j":3},{"i":24,"j":3},{"i":25,"j":3},{"i":26,"j":3},{"i":27,"j":3},{"i":28,"j":3},{"i":29,"j":3},
{"i":1,"j":2},{"i":2,"j":2},{"i":3,"j":2},{"i":4,"j":2},{"i":5,"j":2},{"i":6,"j":2},{"i":7,"j":2},{"i":8,"j":2},{"i":9,"j":2},{"i":10,"j":2},{"i":11,"j":2},{"i":12,"j":2},{"i":13,"j":2},{"i":14,"j":2},{"i":15,"j":2},{"i":16,"j":2},{"i":17,"j":2},{"i":18,"j":2},{"i":19,"j":2},{"i":20,"j":2},{"i":21,"j":2},{"i":22,"j":2},{"i":23,"j":2},{"i":24,"j":2},{"i":25,"j":2},{"i":26,"j":2},{"i":27,"j":2},{"i":28,"j":2},{"i":29,"j":2},
{"i":1,"j":1},{"i":2,"j":1},{"i":3,"j":1},{"i":4,"j":1},{"i":5,"j":1},{"i":6,"j":1},{"i":7,"j":1},{"i":8,"j":1},{"i":9,"j":1},{"i":10,"j":1},{"i":11,"j":1},{"i":12,"j":1},{"i":13,"j":1},{"i":14,"j":1},{"i":15,"j":1},{"i":16,"j":1},{"i":17,"j":1},{"i":18,"j":1},{"i":19,"j":1},{"i":20,"j":1},{"i":21,"j":1},{"i":22,"j":1},{"i":23,"j":1},{"i":24,"j":1},{"i":25,"j":1},{"i":26,"j":1},{"i":27,"j":1},{"i":28,"j":1},{"i":29,"j":1}
]
},
"vconcat":[
{
"width":563,"height":574,
"title":{"text":"a","dx":-80,"dy":31},
"layer":[
{"data":{"name":"rings"},"mark":{"type":"line","interpolate":"cardinal-closed","color":"black","strokeWidth":1.3},
"encoding":{
"x":{"field":"x","type":"quantitative","scale":{"domain":[0,1],"nice":false,"zero":false},
"axis":{"title":"x/a","tickCount":100,"values":[0,0.02,0.04,0.06,0.08,0.1,0.12,0.14,0.16,0.18,0.2,0.22,0.24,0.26,0.28,0.3,0.32,0.34,0.36,0.38,0.4,0.42,0.44,0.46,0.48,0.5,0.52,0.54,0.56,0.58,0.6,0.62,0.64,0.66,0.68,0.7,0.72,0.74,0.76,0.78,0.8,0.82,0.84,0.86,0.88,0.9,0.92,0.94,0.96,0.98,1],
"labelExpr":"abs(datum.value*10-round(datum.value*10))<0.001 ? format(datum.value,'.1~f') : ''",
"tickSize":{"condition":{"test":"abs(datum.value*10-round(datum.value*10))<0.001","value":-14},"value":-8},
"tickWidth":{"condition":{"test":"abs(datum.value*10-round(datum.value*10))<0.001","value":3},"value":2},
"labelPadding":27,"titlePadding":-3}},
"y":{"field":"y","type":"quantitative","scale":{"domain":[0,1],"nice":false,"zero":false},
"axis":{"title":"y/b","tickCount":100,"values":[0,0.02,0.04,0.06,0.08,0.1,0.12,0.14,0.16,0.18,0.2,0.22,0.24,0.26,0.28,0.3,0.32,0.34,0.36,0.38,0.4,0.42,0.44,0.46,0.48,0.5,0.52,0.54,0.56,0.58,0.6,0.62,0.64,0.66,0.68,0.7,0.72,0.74,0.76,0.78,0.8,0.82,0.84,0.86,0.88,0.9,0.92,0.94,0.96,0.98,1],
"labelExpr":"abs(datum.value*10-round(datum.value*10))<0.001 ? format(datum.value,'.1~f') : ''",
"tickSize":{"condition":{"test":"abs(datum.value*10-round(datum.value*10))<0.001","value":-17},"value":-11},
"tickWidth":{"condition":{"test":"abs(datum.value*10-round(datum.value*10))<0.001","value":3},"value":2},
"labelPadding":29,"titlePadding":9}},
"detail":{"field":"c"},"order":{"field":"o"}}},
{"data":{"name":"inner"},"mark":{"type":"line","interpolate":"linear-closed","color":"black","strokeWidth":1.3},
"encoding":{"x":{"field":"x","type":"quantitative","scale":{"domain":[0,1],"nice":false,"zero":false}},"y":{"field":"y","type":"quantitative","scale":{"domain":[0,1],"nice":false,"zero":false}},"detail":{"field":"c"},"order":{"field":"o"}}},
{"data":{"name":"arcs"},"mark":{"type":"line","interpolate":"cardinal","color":"black","strokeWidth":1.2},
"encoding":{"x":{"field":"x","type":"quantitative","scale":{"domain":[0,1],"nice":false,"zero":false}},"y":{"field":"y","type":"quantitative","scale":{"domain":[0,1],"nice":false,"zero":false}},"detail":{"field":"c"},"order":{"field":"o"}}},
{"data":{"values":[{"x":0.41,"x2":0.616,"y":0.404,"y2":0.603}]},"mark":{"type":"rect","fillOpacity":0,"stroke":"black","strokeWidth":1.5,"strokeDash":[1.5,1.5]},
"encoding":{"x":{"field":"x","type":"quantitative","scale":{"domain":[0,1],"nice":false,"zero":false}},"x2":{"field":"x2"},"y":{"field":"y","type":"quantitative","scale":{"domain":[0,1],"nice":false,"zero":false}},"y2":{"field":"y2"}}},
{"data":{"name":"labels"},"mark":{"type":"text","font":"Liberation Sans","fontSize":14,"align":"center","baseline":"middle","fill":"white","stroke":"white","strokeWidth":6,"strokeJoin":"round"},
"encoding":{"x":{"field":"x","type":"quantitative","scale":{"domain":[0,1],"nice":false,"zero":false}},"y":{"field":"y","type":"quantitative","scale":{"domain":[0,1],"nice":false,"zero":false}},"text":{"field":"t"}}},
{"data":{"name":"labels"},"mark":{"type":"text","font":"Liberation Sans","fontSize":14,"align":"center","baseline":"middle","color":"black"},
"encoding":{"x":{"field":"x","type":"quantitative","scale":{"domain":[0,1],"nice":false,"zero":false}},"y":{"field":"y","type":"quantitative","scale":{"domain":[0,1],"nice":false,"zero":false}},"text":{"field":"t"}}},
{"data":{"values":[{"t":"0.272","x":0.933,"y":0.971}]},"mark":{"type":"text","font":"Liberation Serif","fontSize":15,"fontWeight":"bold","align":"left","baseline":"middle","color":"black","clip":true},
"encoding":{"x":{"field":"x","type":"quantitative","scale":{"domain":[0,1],"nice":false,"zero":false}},"y":{"field":"y","type":"quantitative","scale":{"domain":[0,1],"nice":false,"zero":false}},"text":{"field":"t"}}}
]
},
{
"width":552,"height":567,
"title":{"text":"b","dx":-81,"dy":36},
"layer":[
{"data":{"name":"far"},"mark":{"type":"point","shape":"circle","filled":true,"size":6,"color":"black","opacity":1},
"encoding":{
"x":{"field":"i","type":"quantitative","scale":{"domain":[0,30],"nice":false,"zero":false},
"axis":{"title":"x/a","tickCount":100,"values":[0,0.6,1.2,1.8,2.4,3,3.6,4.2,4.8,5.4,6,6.6,7.2,7.8,8.4,9,9.6,10.2,10.8,11.4,12,12.6,13.2,13.8,14.4,15,15.6,16.2,16.8,17.4,18,18.6,19.2,19.8,20.4,21,21.6,22.2,22.8,23.4,24,24.6,25.2,25.8,26.4,27,27.6,28.2,28.8,29.4,30],
"labelExpr":"abs(datum.value/3-round(datum.value/3))<0.01 ? format(datum.value/30,'.1~f') : ''",
"tickSize":{"condition":{"test":"abs(datum.value/3-round(datum.value/3))<0.01","value":-14},"value":-8},
"tickWidth":{"condition":{"test":"abs(datum.value/3-round(datum.value/3))<0.01","value":3},"value":2},
"labelPadding":27,"titlePadding":-4}},
"y":{"field":"j","type":"quantitative","scale":{"domain":[0,30],"nice":false,"zero":false},
"axis":{"title":"y/b","tickCount":100,"values":[0,0.6,1.2,1.8,2.4,3,3.6,4.2,4.8,5.4,6,6.6,7.2,7.8,8.4,9,9.6,10.2,10.8,11.4,12,12.6,13.2,13.8,14.4,15,15.6,16.2,16.8,17.4,18,18.6,19.2,19.8,20.4,21,21.6,22.2,22.8,23.4,24,24.6,25.2,25.8,26.4,27,27.6,28.2,28.8,29.4,30],
"labelExpr":"abs(datum.value/3-round(datum.value/3))<0.01 ? format(datum.value/30,'.1~f') : ''",
"tickSize":{"condition":{"test":"abs(datum.value/3-round(datum.value/3))<0.01","value":-17},"value":-11},
"tickWidth":{"condition":{"test":"abs(datum.value/3-round(datum.value/3))<0.01","value":3},"value":2},
"labelPadding":29,"titlePadding":9}}}},
{"data":{"name":"near"},"mark":{"type":"point","shape":"stroke","filled":false,"strokeWidth":2.2,"color":"black","opacity":1},
"encoding":{"x":{"field":"i","type":"quantitative","scale":{"domain":[0,30],"nice":false,"zero":false}},"y":{"field":"j","type":"quantitative","scale":{"domain":[0,30],"nice":false,"zero":false}},
"angle":{"field":"a","type":"quantitative","scale":null},
"size":{"field":"l","type":"quantitative","scale":{"type":"pow","exponent":2,"domain":[0,10],"range":[0,100]},"legend":null}}},
{"data":{"values":[{"x":11.8,"x2":18.03,"y":11.8,"y2":17.9}]},"mark":{"type":"rect","fillOpacity":0,"stroke":"black","strokeWidth":1.5,"strokeDash":[1.5,1.5]},
"encoding":{"x":{"field":"x","type":"quantitative","scale":{"domain":[0,30],"nice":false,"zero":false}},"x2":{"field":"x2"},"y":{"field":"y","type":"quantitative","scale":{"domain":[0,30],"nice":false,"zero":false}},"y2":{"field":"y2"}}}
]
}
]
}
